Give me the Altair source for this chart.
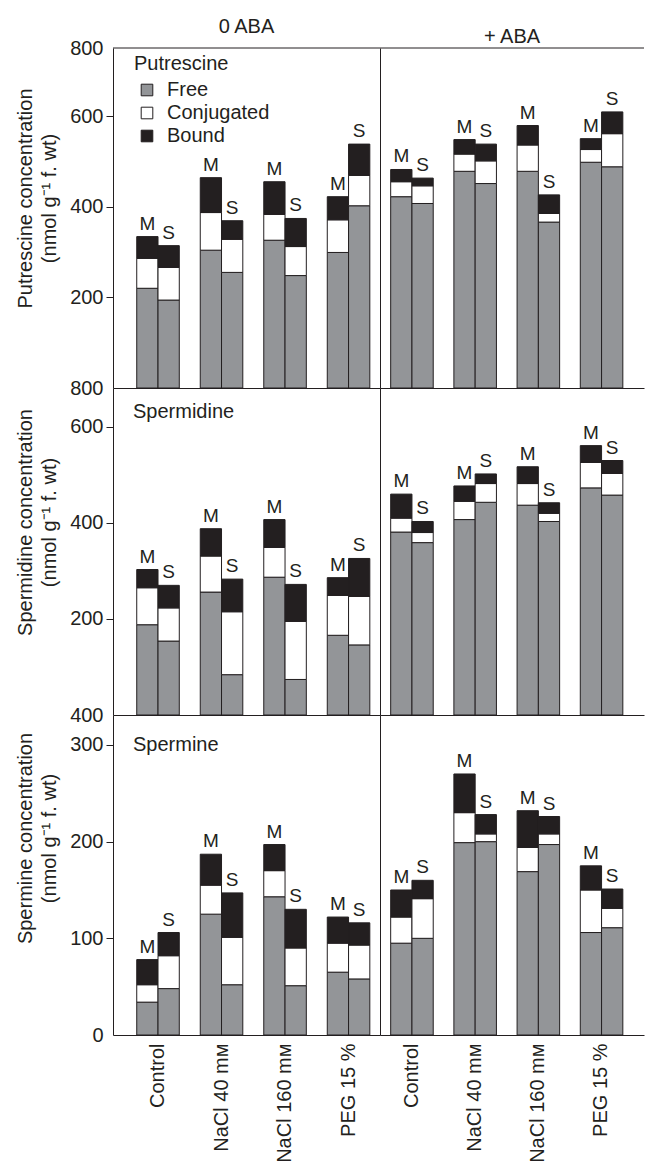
import altair as alt
import pandas as pd

treatments = ["Control", "NaCl 40 mᴍ", "NaCl 160 mᴍ", "PEG 15 %"]
cultivars = ["M", "S"]
components = ["Free", "Conjugated", "Bound"]
compounds = ["Putrescine", "Spermidine", "Spermine"]
aba_levels = ["0 ABA", "+ ABA"]

# Putrescine, 0 ABA
put0_M_free = [220, 304, 326, 299]
put0_M_conj = [66, 83, 57, 72]
put0_M_bound = [48, 77, 72, 51]
put0_S_free = [194, 255, 248, 402]
put0_S_conj = [72, 73, 64, 67]
put0_S_bound = [48, 41, 62, 69]
# Putrescine, + ABA
putA_M_free = [422, 478, 478, 498]
putA_M_conj = [33, 38, 58, 28]
putA_M_bound = [27, 32, 43, 24]
putA_S_free = [407, 451, 366, 488]
putA_S_conj = [39, 50, 19, 73]
putA_S_bound = [17, 37, 41, 48]
# Spermidine, 0 ABA
spd0_M_free = [188, 256, 287, 166]
spd0_M_conj = [77, 75, 62, 83]
spd0_M_bound = [38, 57, 58, 37]
spd0_S_free = [154, 84, 74, 146]
spd0_S_conj = [69, 131, 121, 101]
spd0_S_bound = [47, 68, 77, 79]
# Spermidine, + ABA
spdA_M_free = [381, 407, 437, 473]
spdA_M_conj = [29, 38, 45, 53]
spdA_M_bound = [50, 32, 35, 35]
spdA_S_free = [359, 443, 403, 458]
spdA_S_conj = [21, 39, 17, 45]
spdA_S_bound = [23, 20, 22, 27]
# Spermine, 0 ABA
spm0_M_free = [34, 125, 143, 65]
spm0_M_conj = [18, 30, 27, 30]
spm0_M_bound = [26, 32, 27, 27]
spm0_S_free = [48, 52, 51, 58]
spm0_S_conj = [34, 49, 39, 35]
spm0_S_bound = [24, 46, 40, 23]
# Spermine, + ABA
spmA_M_free = [95, 199, 169, 106]
spmA_M_conj = [27, 31, 25, 44]
spmA_M_bound = [28, 40, 38, 25]
spmA_S_free = [100, 200, 197, 111]
spmA_S_conj = [41, 8, 11, 20]
spmA_S_bound = [19, 20, 18, 20]

# axis tick labels per row (top label shown at panel top)
y_ticks = {
    "Putrescine": [200, 400, 600],
    "Spermidine": [200, 400, 600],
    "Spermine": [0, 100, 200, 300],
}
y_top_value = {"Putrescine": 750, "Spermidine": 681, "Spermine": 331}
y_top_label = {"Putrescine": "800", "Spermidine": "800", "Spermine": "400"}

series = {
    ("Putrescine", "0 ABA", "M"): (put0_M_free, put0_M_conj, put0_M_bound),
    ("Putrescine", "0 ABA", "S"): (put0_S_free, put0_S_conj, put0_S_bound),
    ("Putrescine", "+ ABA", "M"): (putA_M_free, putA_M_conj, putA_M_bound),
    ("Putrescine", "+ ABA", "S"): (putA_S_free, putA_S_conj, putA_S_bound),
    ("Spermidine", "0 ABA", "M"): (spd0_M_free, spd0_M_conj, spd0_M_bound),
    ("Spermidine", "0 ABA", "S"): (spd0_S_free, spd0_S_conj, spd0_S_bound),
    ("Spermidine", "+ ABA", "M"): (spdA_M_free, spdA_M_conj, spdA_M_bound),
    ("Spermidine", "+ ABA", "S"): (spdA_S_free, spdA_S_conj, spdA_S_bound),
    ("Spermine", "0 ABA", "M"): (spm0_M_free, spm0_M_conj, spm0_M_bound),
    ("Spermine", "0 ABA", "S"): (spm0_S_free, spm0_S_conj, spm0_S_bound),
    ("Spermine", "+ ABA", "M"): (spmA_M_free, spmA_M_conj, spmA_M_bound),
    ("Spermine", "+ ABA", "S"): (spmA_S_free, spmA_S_conj, spmA_S_bound),
}

rows = []
tot_rows = []
for (cmp_, aba, cv), comps in series.items():
    for i, t in enumerate(treatments):
        total = 0
        for k, comp in enumerate(components):
            v = comps[k][i]
            total += v
            rows.append(dict(compound=cmp_, aba=aba, cultivar=cv, treatment=t,
                             component=comp, ord=k, value=v))
        tot_rows.append(dict(compound=cmp_, aba=aba, cultivar=cv, treatment=t, total=total))
df = pd.DataFrame(rows)
tot = pd.DataFrame(tot_rows)

INK = "#231f20"
GRAY = "#939598"
FONT = "Liberation Sans"

heights = {"Putrescine": 340, "Spermidine": 327, "Spermine": 320}
widths = {"0 ABA": 267, "+ ABA": 264}
xscale = {
    "0 ABA": dict(paddingInner=0.33, paddingOuter=0.267, align=0.70),
    "+ ABA": dict(paddingInner=0.335, paddingOuter=0.256, align=0.33),
}
title_y = {"Putrescine": 150, "Spermidine": 134, "Spermine": 123}


def cell(cmp_, aba):
    W, H = widths[aba], heights[cmp_]
    left = aba == "0 ABA"
    bottom = cmp_ == "Spermine"
    top = cmp_ == "Putrescine"
    d = df[(df.compound == cmp_) & (df.aba == aba)]
    t = tot[(tot.compound == cmp_) & (tot.aba == aba)]
    ytop = y_top_value[cmp_]
    vals = y_ticks[cmp_] + [ytop]

    if left:
        yaxis = alt.Axis(
            values=vals,
            labelExpr=f"datum.value == {ytop} ? '{y_top_label[cmp_]}' : datum.label",
            tickOpacity={"condition": {"test": f"datum.value == {ytop} || datum.value == 0", "value": 0}, "value": 1},
            title=[f"{cmp_} concentration", "(nmol g\u207b\u00b9 f. wt)"],
            titleY=title_y[cmp_], titlePadding=10, titleLineHeight=24,
            tickSize=7, labelPadding=3, grid=False,
        )
    else:
        yaxis = alt.Axis(labels=False, ticks=False, title=None, grid=False, domain=True)

    if bottom:
        xaxis = alt.Axis(title=None, labelAngle=270, ticks=False, labelPadding=8, domain=True)
    else:
        xaxis = alt.Axis(title=None, labels=False, ticks=False, domain=True)

    x = alt.X("treatment:N", sort=treatments, axis=xaxis, scale=alt.Scale(**xscale[aba]))
    xo = alt.XOffset("cultivar:N", sort=cultivars, scale=alt.Scale(paddingInner=0, paddingOuter=0))
    yscale = alt.Scale(domain=[0, ytop], nice=False, zero=True)

    if left and top:
        legend = alt.Legend(
            title=cmp_, orient="none", legendX=21, legendY=6, padding=0,
            symbolType="square", symbolSize=135, symbolStrokeColor=INK, symbolStrokeWidth=1,
            symbolOffset=3, labelOffset=10, rowPadding=3, titlePadding=6,
            labelFontSize=20, titleFontSize=20, titleFontWeight="normal",
            labelFont=FONT, titleFont=FONT, labelColor=INK, titleColor=INK,
        )
    else:
        legend = None

    bars = alt.Chart(d).mark_bar(stroke=INK, strokeWidth=1).encode(
        x=x, xOffset=xo,
        y=alt.Y("value:Q", stack="zero", scale=yscale, axis=yaxis),
        color=alt.Color("component:N", sort=components,
                        scale=alt.Scale(domain=components, range=[GRAY, "#ffffff", INK]),
                        legend=legend),
        order=alt.Order("ord:Q", sort="ascending"),
    )
    labels = alt.Chart(t).mark_text(baseline="bottom", dy=-3, fontSize=19, font=FONT, color=INK).encode(
        x=x, xOffset=xo, y=alt.Y("total:Q", scale=yscale), text="cultivar:N",
    )
    layers = [bars, labels]
    if left and not top:
        name = alt.Chart(pd.DataFrame({"name": [cmp_]})).mark_text(
            align="left", baseline="middle", fontSize=20, font=FONT, color=INK
        ).encode(x=alt.value(20), y=alt.value(24 if cmp_ == "Spermidine" else 30), text="name:N")
        layers.append(name)
    if top:
        rule = alt.Chart(pd.DataFrame({"a": [0]})).mark_rule(color=INK, strokeWidth=1).encode(
            x=alt.value(0), x2=alt.value(W), y=alt.value(0)
        )
        layers.append(rule)
    ch = alt.layer(*layers).properties(width=W, height=H)
    if top:
        ch = ch.properties(title=alt.TitleParams(aba, fontSize=20, fontWeight="normal", font=FONT,
                                                 color=INK, offset=1, anchor="middle", frame="group"))
    return ch


cells = [cell(c, a) for c in compounds for a in aba_levels]

chart = alt.concat(*cells, columns=2, spacing=0, bounds="flush").properties(
    padding={"left": 15, "top": 17, "right": 0, "bottom": 0}
).resolve_scale(color="independent").resolve_legend(color="independent").configure(
    font=FONT
).configure_view(stroke=None).configure_concat(spacing=0).configure_axis(
    domainColor=INK, tickColor=INK, labelColor=INK, titleColor=INK,
    labelFont=FONT, titleFont=FONT, labelFontSize=20, titleFontSize=20,
    titleFontWeight="normal", domainWidth=1,
).configure_text(font=FONT)

chart.save("out.html", embed_options={"renderer": "svg", "actions": False})
